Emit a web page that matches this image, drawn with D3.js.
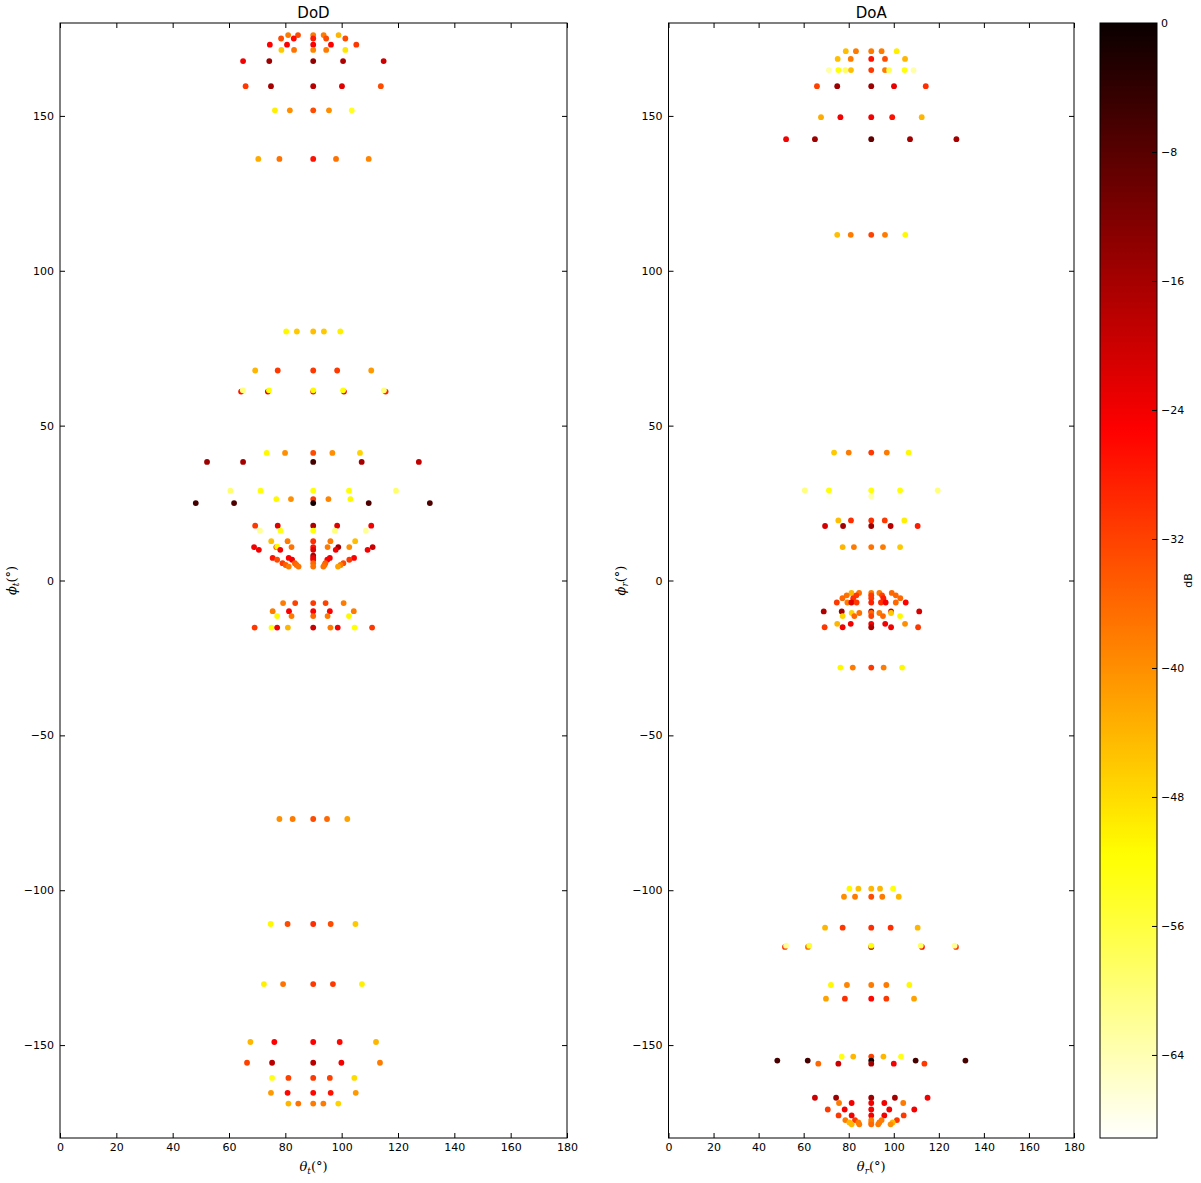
<!DOCTYPE html>
<html><head><meta charset="utf-8">
<script src="https://cdn.jsdelivr.net/npm/d3@7"></script>
<style>body{margin:0;background:#fff} svg{font-family:"DejaVu Sans",sans-serif}</style>
</head><body><svg id="c" width="1201" height="1183"></svg>
<script>
// ---------------- DATA ----------------
const xTicks = [0,20,40,60,80,100,120,140,160,180];
const yTicks = [-150,-100,-50,0,50,100,150];
const cbTicks = [0,-8,-16,-24,-32,-40,-48,-56,-64];
const dbMin = -69.15, dbMax = 0;

// DoD panel (theta_t, phi_t, power dB)
const dodTheta = [
 81,84.5,89.9,93.6,98.9,
 78.5,83,89.9,94.5,101.3,
 74.5,80.6,89.9,96.2,105.2,
 78.6,83.1,89.9,94.5,101.3,
 65,74.3,89.9,100.5,114.9,
 65.9,74.9,89.9,100.1,113.9,
 76.3,81.6,89.9,95.5,103.6,
 70.4,77.9,89.9,98,109.6,
 80.3,84.1,89.9,93.7,99.5,
 69.3,77.3,89.9,98.4,110.5,
 64.3,73.8,89.9,100.8,115.6,
 64.9,74.2,89.9,100.5,115,
 73.4,79.9,89.9,96.7,106.5,
 52.2,65,89.9,107.1,127.4,
 60.5,71.2,89.9,102.6,119.3,
 76.8,82,89.9,95.3,103.1,
 48.2,61.8,89.9,109.6,131.3,
 69.3,77.3,89.9,98.4,110.5,
 71,78.3,89.9,97.6,108.6,
 75,80.8,89.9,96,104.8,
 68.9,76.8,82.2,89.9,95,98.8,102.7,111,
 77.1,
 70.6,78.2,89.9,97.9,109.2,
 89.9,
 75.5,81.2,89.9,95.8,104.4,
 77.1,82.4,89.9,94.9,102.7,
 79,83.4,89.9,94.2,100.6,
 80.1,84,93.9,99.6,
 81.2,84.7,89.9,93.5,98.7,
 79.2,83.5,89.9,94.3,100.7,
 75.5,81.3,89.9,95.8,104.3,
 77.1,82.2,89.9,95,102.6,
 69.1,75.1,77.1,80.9,89.9,96,98.6,104.6,110.8,
 77.9,82.6,89.9,94.8,102,
 74.8,80.8,89.9,96.1,104.9,
 72.4,79.2,89.9,96.9,107.2,
 67.6,76.1,89.9,99.3,112.2,
 66.4,75.3,89.9,99.9,113.6,
 75.3,81.1,89.9,95.8,104.5,
 74.9,80.8,89.9,96.1,105,
 81.1,84.6,89.9,93.5,98.8
];
const dodPhi = [
 176.1,176.1,176.1,176.1,176.1,
 175,175,175,175,175,
 173,173,173,173,173,
 171.3,171.3,171.3,171.3,171.3,
 167.7,167.7,167.7,167.7,167.7,
 159.6,159.6,159.6,159.6,159.6,
 151.8,151.8,151.8,151.8,151.8,
 136.1,136.1,136.1,136.1,136.1,
 80.4,80.4,80.4,80.4,80.4,
 67.8,67.8,67.8,67.8,67.8,
 61.0,61.0,61.0,61.0,61.0,
 61.4,61.4,61.4,61.4,61.4,
 41.2,41.2,41.2,41.2,41.2,
 38.3,38.3,38.3,38.3,38.3,
 29,29,29,29,29,
 26.3,26.3,26.3,26.3,26.3,
 25,25,25,25,25,
 17.7,17.7,17.7,17.7,17.7,
 16.1,16.1,16.1,16.1,16.1,
 12.7,12.7,12.7,12.7,12.7,
 10.8,10.8,10.8,10.8,10.8,10.8,10.8,10.8,
 10.9,
 9.9,9.9,9.9,9.9,9.9,
 8,
 7.3,7.3,7.3,7.3,7.3,
 6.7,6.7,6.7,6.7,6.7,
 5.6,5.6,5.6,5.6,5.6,
 5.0,5.0,5.0,5.0,
 4.5,4.5,4.5,4.5,4.5,
 -7.3,-7.3,-7.3,-7.3,-7.3,
 -9.9,-9.9,-9.9,-9.9,-9.9,
 -11.5,-11.5,-11.5,-11.5,-11.5,
 -15.2,-15.2,-15.2,-15.2,-15.2,-15.2,-15.2,-15.2,-15.2,
 -77,-77,-77,-77,-77,
 -110.9,-110.9,-110.9,-110.9,-110.9,
 -130.3,-130.3,-130.3,-130.3,-130.3,
 -149,-149,-149,-149,-149,
 -155.7,-155.7,-155.7,-155.7,-155.7,
 -160.6,-160.6,-160.6,-160.6,-160.6,
 -165.4,-165.4,-165.4,-165.4,-165.4,
 -168.9,-168.9,-168.9,-168.9,-168.9
];
const dodDb = [
 -38,-33,-38,-38,-44,
 -33,-26,-28,-33,-33,
 -25,-25,-25,-25,-31,
 -46,-37,-39,-38,-49,
 -24,-15,-14,-17,-20,
 -31,-16,-18,-22,-33,
 -50,-40,-33,-40,-54,
 -43,-37,-27,-37,-39,
 -51,-46,-45,-46,-50,
 -44,-31,-31,-31,-41,
 -27,-24,-25,-24,-29,
 -60,-52,-51,-52,-60,
 -51,-40,-33,-40,-47,
 -15,-16,-6,-16,-19,
 -59,-52,-52,-52,-59,
 -51,-40,-31,-39,-51,
 -6,-7,-1,-7,-7,
 -31,-22,-17,-22,-24,
 -62,-53,-52,-60,-62,
 -45,-38,-30,-38,-45,
 -24,-30,-37,-27,-38,-16,-40,-20,
 -51,
 -24,-24,-22,-24,-24,
 -17,
 -27,-25,-23,-24,-25,
 -33,-24,-24,-25,-31,
 -31,-35,-36,-35,-33,
 -35,-36,-36,-38,
 -38,-37,-37,-37,-42,
 -38,-32,-31,-32,-38,
 -38,-25,-25,-25,-38,
 -51,-38,-36,-38,-51,
 -31,-52,-24,-44,-20,-38,-24,-52,-31,
 -40,-38,-33,-36,-42,
 -51,-33,-30,-33,-46,
 -50,-37,-31,-31,-50,
 -44,-25,-25,-26,-44,
 -32,-18,-18,-24,-38,
 -53,-32,-31,-32,-48,
 -41,-26,-26,-27,-41,
 -44,-37,-38,-38,-47
];

// DoA panel (theta_r, phi_r, power dB)
const doaTheta = [
 78.7,83.2,90,94.6,101.3,
 75.1,80.9,90,96.1,105,
 71.2,75.4,78.5,81,90,96.1,97.9,104.8,108.8,
 65.9,74.9,90,100.1,114.2,
 67.7,76.3,90,99.3,112.4,
 52.2,65,90,107.2,127.8,
 74.9,80.9,90,96.1,105.1,
 73.5,80,90,96.9,106.6,
 60.5,71.2,90,102.8,119.5,
 71.2,90,102.8,
 75.4,81,90,96,104.7,
 69.5,77.5,90,98.6,110.6,
 77.3,82.3,90,95.2,102.8,
 81.2,84.6,90,93.6,99.1,
 79.1,83.4,90,94.8,100.9,
 77.2,82,90,95.4,102.9,
 74.7,79.4,81.2,83.5,90,94.3,96.4,100.9,105.3,
 68.9,76.9,90,98.8,111.3,
 81.3,84.7,90,93.6,98.8,
 77.3,82.5,90,95.2,102.8,
 74.9,80.9,90,96.2,105,
 69.3,77.3,90,98.8,110.8,
 76.3,81.8,90,95.5,103.7,
 80.3,84.3,90,93.9,99.7,
 77.9,82.8,90,94.9,102.2,
 69.5,77.3,90,98.6,110.6,
 51.7,61.9,90,112.5,127.6,
 52.2,62.5,90,112,127,
 72.1,79.2,90,96.7,106.9,
 69.9,78.3,90,96.7,109,
 76.9,82,90,95.4,103.2,
 48.3,61.8,90,109.7,131.8,
 66.5,75.4,90,100,113.6,
 65,74.4,90,100.5,115,
 75.7,81.3,90,95.8,104.2,
 70.7,78.2,90,98,109.1,
 75.5,81.3,90,95.8,104.4,
 78.5,82.8,90,94.6,101.4,
 80.3,84.3,90,93.6,99.5,
 81.3,84.7,90,93.1,98.6
];
const doaPhi = [
 170.9,170.9,170.9,170.9,170.9,
 168.4,168.4,168.4,168.4,168.4,
 164.8,164.8,164.8,164.8,164.8,164.8,164.8,164.8,164.8,
 159.6,159.6,159.6,159.6,159.6,
 149.6,149.6,149.6,149.6,149.6,
 142.5,142.5,142.5,142.5,142.5,
 111.6,111.6,111.6,111.6,111.6,
 41.3,41.3,41.3,41.3,41.3,
 29.1,29.1,29.1,29.1,29.1,
 27.2,27.2,27.2,
 19.4,19.4,19.4,19.4,19.4,
 17.6,17.6,17.6,17.6,17.6,
 10.8,10.8,10.8,10.8,10.8,
 -4,-4,-4,-4,-4,
 -4.8,-4.8,-4.8,-4.8,-4.8,
 -5.7,-5.7,-5.7,-5.7,-5.7,
 -7.1,-7.1,-7.1,-7.1,-7.1,-7.1,-7.1,-7.1,-7.1,
 -10,-10,-10,-10,-10,
 -10.5,-10.5,-10.5,-10.5,-10.5,
 -11.5,-11.5,-11.5,-11.5,-11.5,
 -14,-14,-14,-14,-14,
 -15.1,-15.1,-15.1,-15.1,-15.1,
 -28.1,-28.1,-28.1,-28.1,-28.1,
 -99.5,-99.5,-99.5,-99.5,-99.5,
 -102.1,-102.1,-102.1,-102.1,-102.1,
 -112.1,-112.1,-112.1,-112.1,-112.1,
 -118.3,-118.3,-118.3,-118.3,-118.3,
 -117.9,-117.9,-117.9,-117.9,-117.9,
 -130.6,-130.6,-130.6,-130.6,-130.6,
 -135,-135,-135,-135,-135,
 -153.7,-153.7,-153.7,-153.7,-153.7,
 -155,-155,-155,-155,-155,
 -156,-156,-156,-156,-156,
 -167,-167,-167,-167,-167,
 -168.7,-168.7,-168.7,-168.7,-168.7,
 -170.8,-170.8,-170.8,-170.8,-170.8,
 -172.7,-172.7,-172.7,-172.7,-172.7,
 -174.2,-174.2,-174.2,-174.2,-174.2,
 -175,-175,-175,-175,-175,
 -175.6,-175.6,-175.6,-175.6,-175.6
];
const doaDb = [
 -45,-38,-38,-38,-50,
 -45,-38,-27,-33,-44,
 -63,-52,-58,-45,-31,-38,-57,-52,-63,
 -32,-15,-15,-23,-30,
 -43,-24,-24,-27,-44,
 -24,-15,-9,-16,-16,
 -45,-38,-32,-38,-51,
 -46,-38,-31,-38,-51,
 -60,-52,-52,-52,-60,
 -68,-63,-68,
 -45,-30,-30,-31,-50,
 -21,-16,-15,-18,-28,
 -44,-38,-37,-38,-46,
 -44,-37,-38,-38,-36,
 -37,-31,-31,-32,-36,
 -36,-30,-31,-28,-36,
 -31,-38,-22,-31,-29,-30,-24,-36,-25,
 -17,-16,-16,-20,-21,
 -47,-37,-36,-38,-46,
 -47,-36,-32,-36,-51,
 -44,-24,-24,-24,-40,
 -31,-24,-17,-24,-31,
 -51,-38,-31,-38,-51,
 -51,-45,-44,-44,-52,
 -40,-38,-33,-38,-44,
 -44,-31,-30,-30,-44,
 -31,-36,-16,-26,-31,
 -62,-55,-52,-58,-62,
 -51,-39,-38,-38,-51,
 -42,-30,-26,-31,-42,
 -53,-44,-32,-44,-53,
 -6,-6,-1,-6,-6,
 -36,-20,-16,-24,-31,
 -20,-15,-15,-16,-24,
 -38,-24,-24,-24,-38,
 -31,-24,-24,-24,-24,
 -31,-24,-24,-24,-31,
 -38,-31,-38,-38,-31,
 -44,-38,-38,-38,-44,
 -44,-38,-36,-38,-40
];

// ---------------- DRAW ----------------
const svg = d3.select('#c');
const yTop = 23, yBot = 1138;

function hot(s){ // matplotlib 'hot'
  const r = Math.min(1, 0.0416 + (1-0.0416)*s/0.365079);
  const g = Math.max(0, Math.min(1, (s-0.365079)/(0.746032-0.365079)));
  const b = Math.max(0, Math.min(1, (s-0.746032)/(1-0.746032)));
  return d3.rgb(r*255, g*255, b*255).toString();
}
const color = v => hot(Math.max(0, Math.min(1, (dbMax - v)/(dbMax - dbMin))));

function panel(x0, x1, theta, phi, db, title, xSub, ySub){
  const x = d3.scaleLinear().domain([0,180]).range([x0,x1]);
  const y = d3.scaleLinear().domain([-180,180]).range([yBot,yTop]);
  const g = svg.append('g');
  g.append('g').selectAll('circle').data(d3.range(theta.length)).join('circle')
    .attr('cx', i => x(theta[i])).attr('cy', i => y(phi[i]))
    .attr('r', 2.9).attr('fill', i => color(db[i]));
  const fmt = d3.format('d');
  const ax = [
    g.append('g').attr('transform',`translate(0,${yBot})`).call(d3.axisBottom(x).tickValues(xTicks).tickFormat(fmt).tickSizeInner(-5).tickSizeOuter(0).tickPadding(5)),
    g.append('g').attr('transform',`translate(0,${yTop})`).call(d3.axisTop(x).tickValues(xTicks).tickFormat('').tickSizeInner(-5).tickSizeOuter(0)),
    g.append('g').attr('transform',`translate(${x0},0)`).call(d3.axisLeft(y).tickValues(yTicks).tickFormat(fmt).tickSizeInner(-5).tickSizeOuter(0).tickPadding(6)),
    g.append('g').attr('transform',`translate(${x1},0)`).call(d3.axisRight(y).tickValues(yTicks).tickFormat('').tickSizeInner(-5).tickSizeOuter(0))
  ];
  ax.forEach(a => { a.select('.domain').remove(); a.selectAll('text').attr('font-size',11).attr('fill','#000').attr('font-family','DejaVu Sans'); a.selectAll('line').attr('stroke','#000'); });
  g.append('rect').attr('x',x0).attr('y',yTop).attr('width',x1-x0).attr('height',yBot-yTop)
    .attr('fill','none').attr('stroke','#000').attr('stroke-width',1);
  g.append('text').attr('x',(x0+x1)/2).attr('y',18).attr('text-anchor','middle')
    .attr('font-size',15).text(title);
  const xl = g.append('text').attr('x',(x0+x1)/2).attr('y',1171).attr('text-anchor','middle')
    .attr('font-family','DejaVu Serif').attr('font-size',13);
  xl.append('tspan').attr('font-style','italic').text('θ');
  xl.append('tspan').attr('font-style','italic').attr('font-size',9).attr('dy',3).text(xSub);
  xl.append('tspan').attr('dy',-3).text('(°)');
  const yl = g.append('text').attr('transform',`translate(${x0-44},${(yTop+yBot)/2}) rotate(-90)`)
    .attr('text-anchor','middle').attr('font-family','DejaVu Serif').attr('font-size',13);
  yl.append('tspan').attr('font-style','italic').text('ϕ');
  yl.append('tspan').attr('font-style','italic').attr('font-size',9).attr('dy',3).text(ySub);
  yl.append('tspan').attr('dy',-3).text('(°)');
}

panel(60, 567, dodTheta, dodPhi, dodDb, 'DoD', 't', 't');
panel(668.5, 1074, doaTheta, doaPhi, doaDb, 'DoA', 'r', 'r');

// colorbar
const cbX = 1100, cbW = 57;
const cy = d3.scaleLinear().domain([dbMin, dbMax]).range([yBot, yTop]);
const defs = svg.append('defs');
const grad = defs.append('linearGradient').attr('id','cb').attr('x1',0).attr('y1',0).attr('x2',0).attr('y2',1);
d3.range(0, 101).forEach(k => {
  const t = k/100;
  grad.append('stop').attr('offset', t).attr('stop-color', color(dbMax + (dbMin-dbMax)*t));
});
svg.append('rect').attr('x',cbX).attr('y',yTop).attr('width',cbW).attr('height',yBot-yTop)
  .attr('fill','url(#cb)').attr('stroke','#000').attr('stroke-width',1);
const cbAx = svg.append('g').attr('transform',`translate(${cbX+cbW},0)`)
  .call(d3.axisRight(cy).tickValues(cbTicks).tickFormat(d3.format('d')).tickSizeInner(-5).tickSizeOuter(0).tickPadding(4));
cbAx.select('.domain').remove();
cbAx.selectAll('text').attr('font-size',11).attr('fill','#000').attr('font-family','DejaVu Sans');
cbAx.selectAll('line').attr('stroke','#000');
svg.append('text').attr('transform',`translate(1192,${(yTop+yBot)/2}) rotate(-90)`)
  .attr('text-anchor','middle').attr('font-size',11).text('dB');
</script>
</body></html>
